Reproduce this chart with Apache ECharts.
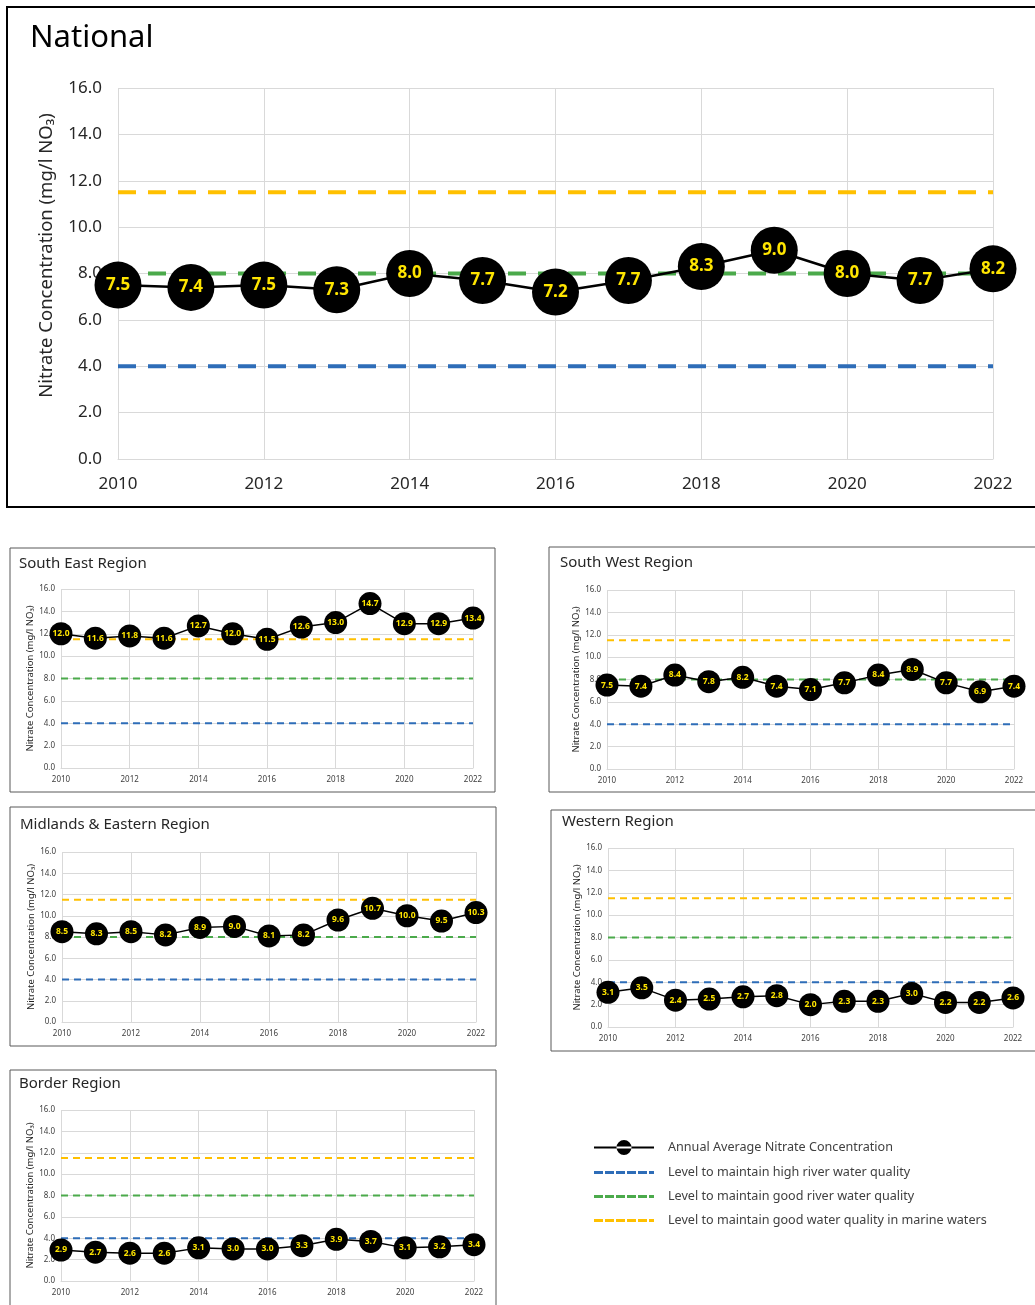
<!DOCTYPE html>
<html>
<head>
<meta charset="utf-8">
<script src="https://cdn.jsdelivr.net/npm/echarts@6/dist/echarts.min.js"></script>
<style>
  html, body { margin: 0; padding: 0; background: #fff; }
  #chart { width: 1035px; height: 1305px; }
</style>
</head>
<body>
<div id="chart"></div>
<script>
// ---------- DATA ----------
const years = [2010, 2011, 2012, 2013, 2014, 2015, 2016, 2017, 2018, 2019, 2020, 2021, 2022];
const nationalValues  = [7.5, 7.4, 7.5, 7.3, 8.0, 7.7, 7.2, 7.7, 8.3, 9.0, 8.0, 7.7, 8.2];
const southEastValues = [12.0, 11.6, 11.8, 11.6, 12.7, 12.0, 11.5, 12.6, 13.0, 14.7, 12.9, 12.9, 13.4];
const southWestValues = [7.5, 7.4, 8.4, 7.8, 8.2, 7.4, 7.1, 7.7, 8.4, 8.9, 7.7, 6.9, 7.4];
const midlandsValues  = [8.5, 8.3, 8.5, 8.2, 8.9, 9.0, 8.1, 8.2, 9.6, 10.7, 10.0, 9.5, 10.3];
const westernValues   = [3.1, 3.5, 2.4, 2.5, 2.7, 2.8, 2.0, 2.3, 2.3, 3.0, 2.2, 2.2, 2.6];
const borderValues    = [2.9, 2.7, 2.6, 2.6, 3.1, 3.0, 3.0, 3.3, 3.9, 3.7, 3.1, 3.2, 3.4];
const thresholdNames  = ['Level to maintain high river water quality', 'Level to maintain good river water quality', 'Level to maintain good water quality in marine waters'];
const thresholdValues = [4, 8, 11.5];
const seriesName = 'Annual Average Nitrate Concentration';
const panelTitles = ['National', 'South East Region', 'South West Region', 'Midlands & Eastern Region', 'Western Region', 'Border Region'];
const panelValues = [nationalValues, southEastValues, southWestValues, midlandsValues, westernValues, borderValues];
const yTicks = { min: 0, max: 16, interval: 2 };
const xTicks = { min: 2010, max: 2022, interval: 2 };

// ---------- STYLE / LAYOUT ----------
const FONT = 'Noto Sans';
const thresholdColors = ['#2E6DB8', '#4BAA4B', '#FFC000'];
const panels = [
  { big: true,  grid: { left: 118, top: 88,   width: 875, height: 371 }, title: { left: 30,  top: 23 },   box: { x: 7,   y: 7,    w: 1040, h: 500 } },
  { big: false, grid: { left: 61,  top: 589,  width: 412, height: 179 }, title: { left: 19,  top: 556 },  box: { x: 10,  y: 548,  w: 485,  h: 244 } },
  { big: false, grid: { left: 607, top: 590,  width: 407, height: 179 }, title: { left: 560, top: 555 },  box: { x: 549, y: 547,  w: 500,  h: 245 } },
  { big: false, grid: { left: 62,  top: 852,  width: 414, height: 170 }, title: { left: 20,  top: 817 },  box: { x: 10,  y: 807,  w: 486,  h: 239 } },
  { big: false, grid: { left: 608, top: 848,  width: 405, height: 179 }, title: { left: 562, top: 814 },  box: { x: 551, y: 810,  w: 500,  h: 241 } },
  { big: false, grid: { left: 61,  top: 1110, width: 413, height: 171 }, title: { left: 19,  top: 1076 }, box: { x: 10,  y: 1070, w: 486,  h: 260 } }
];

const grids = [], xAxes = [], yAxes = [], series = [], titles = [], graphics = [];

panels.forEach((p, i) => {
  const big = p.big;
  grids.push(Object.assign({ containLabel: false }, p.grid));
  titles.push({
    text: panelTitles[i], left: p.title.left, top: p.title.top, padding: 0,
    textStyle: { fontFamily: FONT, fontWeight: 'normal', fontSize: big ? 31 : 15, color: big ? '#000' : '#262626' }
  });
  graphics.push({
    type: 'rect', shape: { x: p.box.x, y: p.box.y, width: p.box.w, height: p.box.h },
    style: { fill: 'none', stroke: big ? '#000' : '#595959', lineWidth: big ? 2 : 1 }, silent: true, z: -1
  });
  xAxes.push({
    type: 'value', gridIndex: i, min: xTicks.min, max: xTicks.max, interval: xTicks.interval,
    axisLine: { show: true, lineStyle: { color: '#d9d9d9', width: 1 } },
    axisTick: { show: false },
    splitLine: { show: true, lineStyle: { color: '#d9d9d9', width: 1 } },
    axisLabel: { formatter: v => String(v), fontFamily: FONT, fontSize: big ? 17 : 8, color: big ? '#262626' : '#404040', margin: big ? 17 : 8 }
  });
  yAxes.push({
    type: 'value', gridIndex: i, min: yTicks.min, max: yTicks.max, interval: yTicks.interval,
    axisLine: { show: false }, axisTick: { show: false },
    splitLine: { show: true, lineStyle: { color: '#d9d9d9', width: 1 } },
    axisLabel: { formatter: v => v.toFixed(1), fontFamily: FONT, fontSize: big ? 17 : 8, color: big ? '#262626' : '#404040', margin: big ? 16 : 6 },
    name: 'Nitrate Concentration (mg/l NO₃)', nameLocation: 'middle', nameRotate: 90,
    nameGap: big ? 62 : 26,
    nameTextStyle: { fontFamily: FONT, fontSize: big ? 18.5 : 9.5, color: '#262626', padding: big ? [0, 0, 0, 36] : 0 }
  });
  thresholdValues.forEach((tv, k) => {
    series.push({
      type: 'line', name: thresholdNames[k], xAxisIndex: i, yAxisIndex: i,
      data: [[xTicks.min, tv], [xTicks.max, tv]],
      symbol: 'none', silent: true, z: 2,
      lineStyle: { color: thresholdColors[k], width: big ? 4 : 2, type: big ? [18, 12] : [7, 5] },
      itemStyle: { color: thresholdColors[k] }
    });
  });
  series.push({
    type: 'line', name: seriesName, xAxisIndex: i, yAxisIndex: i,
    data: years.map((y, j) => [y, panelValues[i][j]]),
    symbol: 'circle', symbolSize: big ? 47 : 23, z: 5,
    lineStyle: { color: '#000', width: big ? 2.5 : 1.5 },
    itemStyle: { color: '#000' },
    label: {
      show: true, position: 'inside', formatter: prm => prm.value[1].toFixed(1),
      color: '#FFE500', fontFamily: FONT, fontWeight: 'bold', fontSize: big ? 17 : 8.5
    }
  });
});

// legend icons (shape only)
const dashIcon = 'path://M0,0H9V3H0Z M11,0H20V3H11Z M22,0H31V3H22Z M33,0H42V3H33Z M44,0H53V3H44Z M55,0H60V3H55Z';
const markerIcon = 'path://M0,6.5H60V8.5H0Z M22.5,7.5A7.5,7.5 0 1,0 37.5,7.5A7.5,7.5 0 1,0 22.5,7.5Z';

const chart = echarts.init(document.getElementById('chart'), null, { renderer: 'canvas' });
chart.setOption({
  backgroundColor: '#fff',
  animation: false,
  title: titles,
  grid: grids,
  xAxis: xAxes,
  yAxis: yAxes,
  graphic: graphics,
  legend: {
    orient: 'vertical', left: 594, top: 1140, padding: 0, itemWidth: 60, itemHeight: 15, itemGap: 11,
    textStyle: { fontFamily: FONT, fontSize: 12.6, color: '#404040', padding: [0, 0, 0, 9] },
    data: [
      { name: seriesName, icon: markerIcon, itemStyle: { color: '#000', borderWidth: 0 } },
      { name: thresholdNames[0], icon: dashIcon, itemStyle: { color: thresholdColors[0], borderWidth: 0 } },
      { name: thresholdNames[1], icon: dashIcon, itemStyle: { color: thresholdColors[1], borderWidth: 0 } },
      { name: thresholdNames[2], icon: dashIcon, itemStyle: { color: thresholdColors[2], borderWidth: 0 } }
    ]
  },
  series: series
});
</script>
</body>
</html>
